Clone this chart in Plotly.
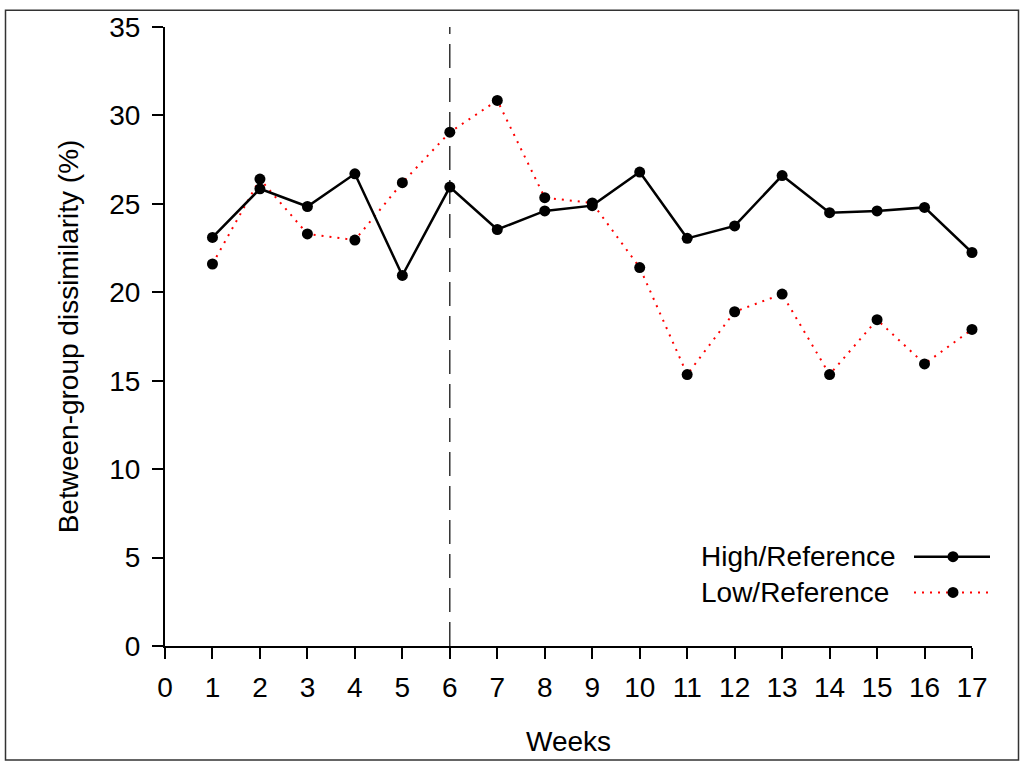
import plotly.graph_objects as go

# Data
weeks = list(range(1, 18))
high_ref = [23.1, 25.85, 24.85, 26.7, 20.95, 25.95, 23.55, 24.6, 24.9, 26.8,
            23.05, 23.75, 26.6, 24.5, 24.6, 24.8, 22.25]
low_ref = [21.6, 26.4, 23.3, 22.95, 26.2, 29.05, 30.85, 25.35, 25.05, 21.4,
           15.35, 18.9, 19.9, 15.35, 18.45, 15.95, 17.9]
treatment_week = 6
x_ticks = list(range(0, 18))
y_ticks = list(range(0, 36, 5))

FONT = 'Liberation Sans, Arial, sans-serif'
RED = '#FF0000'

# plot area in pixels, used to place legend/frame in paper coords
L, R, T, B = 165, 972, 22, 646
W, H = 1024, 765


def px(x):
    return (x - L) / (R - L)


def py(y):
    return (B - y) / (B - T)


fig = go.Figure()

fig.add_trace(go.Scatter(x=weeks, y=low_ref, name='Low/Reference', mode='lines+markers',
                         line=dict(color=RED, width=2, dash='2px,6px'),
                         marker=dict(color='black', size=11), cliponaxis=False))
fig.add_trace(go.Scatter(x=weeks, y=high_ref, name='High/Reference', mode='lines+markers',
                         line=dict(color='black', width=2.5),
                         marker=dict(color='black', size=11), cliponaxis=False))

shapes = [
    # vertical dashed marker line
    dict(type='line', xref='x', yref='y', x0=treatment_week, x1=treatment_week,
         y0=0, y1=35, line=dict(color='black', width=1.2, dash='24px,10px'), layer='below'),
    # outer frame
    dict(type='rect', xref='paper', yref='paper', x0=px(5.5), x1=px(1018.5),
         y0=py(761), y1=py(5), line=dict(color='#333333', width=1.5)),
    # legend symbols
    dict(type='line', xref='paper', yref='paper', x0=px(914), x1=px(990),
         y0=py(556), y1=py(556), line=dict(color='black', width=2.5)),
    dict(type='line', xref='paper', yref='paper', x0=px(914), x1=px(990),
         y0=py(592), y1=py(592), line=dict(color=RED, width=2, dash='2px,6px')),
]
for cy in (556, 592):
    shapes.append(dict(type='circle', xref='paper', yref='paper',
                       x0=px(947.5), x1=px(958.5), y0=py(cy + 5.5), y1=py(cy - 5.5),
                       fillcolor='black', line=dict(color='black', width=0)))

annotations = [
    dict(text='High/Reference', xref='paper', yref='paper', x=px(699), y=py(556),
         xanchor='left', yanchor='middle', showarrow=False,
         font=dict(family=FONT, size=28, color='black')),
    dict(text='Low/Reference', xref='paper', yref='paper', x=px(699), y=py(592),
         xanchor='left', yanchor='middle', showarrow=False,
         font=dict(family=FONT, size=28, color='black')),
]

fig.update_layout(
    width=W, height=H,
    margin=dict(l=L, r=W - R, t=T, b=H - B),
    paper_bgcolor='white', plot_bgcolor='white',
    showlegend=False,
    shapes=shapes, annotations=annotations,
    font=dict(family=FONT, size=28, color='black'),
)
fig.update_xaxes(range=[0, 17], tickvals=x_ticks, showline=True, linecolor='black',
                 linewidth=2, ticks='outside', ticklen=11, tickwidth=2, tickcolor='black',
                 showgrid=False, zeroline=False, ticklabelstandoff=4,
                 title=dict(text='Weeks', standoff=30, font=dict(size=28)),
                 tickfont=dict(size=28))
fig.update_yaxes(range=[0, 35], tickvals=y_ticks, showline=True, linecolor='black',
                 linewidth=2, ticks='outside', ticklen=11, tickwidth=2, tickcolor='black',
                 showgrid=False, zeroline=False, ticklabelstandoff=6,
                 title=dict(text='Between-group dissimilarity (%)', standoff=22,
                            font=dict(size=28)),
                 tickfont=dict(size=28))

# drop the default page margin so the figure sits at the window's top-left
fig.write_html('out.html', config={'displayModeBar': False},
               post_script="document.body.style.margin='0';")
